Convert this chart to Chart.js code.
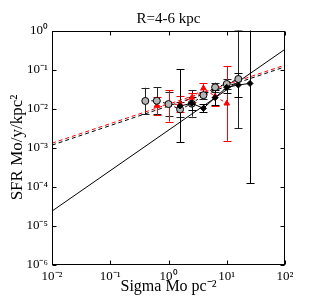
<!DOCTYPE html>
<html><head><meta charset="utf-8">
<script src="https://cdn.jsdelivr.net/npm/chart.js@4"></script>
<style>html,body{margin:0;padding:0;background:#fff}canvas{display:block}</style>
</head><body>
<canvas id="c" width="327" height="307"></canvas>
<script>
// ---- data ----
const grayX  = [0.4, 0.63, 1.0, 1.58, 2.51, 3.98, 6.31, 10.0, 15.8];
const grayY  = [0.0156, 0.0158, 0.013, 0.0095, 0.0133, 0.022, 0.035, 0.0425, 0.057];
const grayLo = [0.0071, 0.0071, 0.0065, 0.006, 0.0062, 0.018, 0.0265, 0.032, 0.0031];
const grayHi = [0.034, 0.0355, 0.026, 0.015, 0.029, 0.027, 0.046, 0.056, 1.05];

const redX  = [0.63, 1.0, 1.58, 2.51, 3.98, 6.31, 10.0];
const redY  = [0.0118, 0.0123, 0.013, 0.019, 0.033, 0.0205, 0.0135];
const redLo = [0.007, 0.0046, 0.0082, 0.0144, 0.024, 0.0116, 0.00148];
const redHi = [0.020, 0.029, 0.0206, 0.025, 0.044, 0.036, 0.123];

const blackX  = [1.58, 2.51, 3.98, 6.31, 10.0, 15.8, 25.1];
const blackY  = [0.0116, 0.0136, 0.0101, 0.019, 0.035, 0.040, 0.044];
const blackLo = [0.00136, 0.0092, 0.0080, 0.012, 0.025, 0.0195, 0.000123];
const blackHi = [0.101, 0.020, 0.0127, 0.030, 0.048, 0.081, 15];

const fitX = [0.01, 100];
const fitBlackSolid  = [2.34e-5, 0.33];
const fitRedDashed   = [1.29e-3, 0.130];
const fitBlackDashed = [1.15e-3, 0.117];

const xTicks = [0.01, 0.1, 1, 10, 100];
const xTickLabels = ['10\u207B\u00B2', '10\u207B\u00B9', '10\u2070', '10\u00B9', '10\u00B2'];
const yTicks = [1e-6, 1e-5, 1e-4, 1e-3, 1e-2, 1e-1, 1];
const yTickLabels = ['10\u207B\u2076', '10\u207B\u2075', '10\u207B\u2074', '10\u207B\u00B3', '10\u207B\u00B2', '10\u207B\u00B9', '10\u2070'];

const FONT = "'Liberation Serif', 'Times New Roman', serif";
const pts = (xs, ys) => xs.map((x, i) => ({x: x, y: ys[i]}));

const errSets = [
  {xs: grayX, lo: grayLo, hi: grayHi, color: '#222'},
  {xs: redX, lo: redLo, hi: redHi, color: '#ff0000'},
  {xs: blackX, lo: blackLo, hi: blackHi, color: '#000'}
];

const errorBars = {
  id: 'errorBars',
  beforeDatasetsDraw(chart) {
    const {ctx, chartArea: a, scales: {x, y}} = chart;
    ctx.save();
    ctx.beginPath(); ctx.rect(a.left, a.top, a.right - a.left, a.bottom - a.top); ctx.clip();
    ctx.lineWidth = 1;
    errSets.forEach(s => {
      ctx.strokeStyle = s.color;
      s.xs.forEach((xv, i) => {
        const px = Math.round(x.getPixelForValue(xv)) + 0.5;
        const y1 = y.getPixelForValue(s.lo[i]);
        const y2 = y.getPixelForValue(s.hi[i]);
        ctx.beginPath();
        ctx.moveTo(px, y1); ctx.lineTo(px, y2);
        const c1 = Math.round(y1) + 0.5, c2 = Math.round(y2) + 0.5;
        ctx.moveTo(px - 4, c1); ctx.lineTo(px + 4, c1);
        ctx.moveTo(px - 4, c2); ctx.lineTo(px + 4, c2);
        ctx.stroke();
      });
    });
    ctx.restore();
  }
};

const frame = {
  id: 'frame',
  afterDraw(chart) {
    const {ctx, chartArea: a, scales: {x, y}} = chart;
    const L = Math.round(a.left) + 0.5, R = Math.round(a.right) - 0.5;
    const T = Math.round(a.top) + 0.5, B = Math.round(a.bottom) - 0.5;
    ctx.save();
    ctx.strokeStyle = '#000'; ctx.lineWidth = 1;
    ctx.strokeRect(L, T, R - L, B - T);
    ctx.beginPath();
    xTicks.forEach(v => {
      const px = Math.round(x.getPixelForValue(v)) + 0.5;
      ctx.moveTo(px, B); ctx.lineTo(px, B - 4);
      ctx.moveTo(px, T); ctx.lineTo(px, T + 4);
    });
    yTicks.forEach(v => {
      const py = Math.round(y.getPixelForValue(v)) + 0.5;
      ctx.moveTo(L, py); ctx.lineTo(L + 4, py);
      ctx.moveTo(R, py); ctx.lineTo(R - 4, py);
    });
    ctx.stroke();
    ctx.restore();
  }
};

new Chart(document.getElementById('c'), {
  type: 'scatter',
  data: {
    datasets: [
      {data: pts(blackX, blackY), showLine: true, borderColor: '#000', borderWidth: 1,
       pointStyle: 'rectRot', pointRadius: 3, pointBackgroundColor: '#000', pointBorderColor: '#000', pointBorderWidth: 1},
      {data: pts(grayX, grayY), showLine: true, borderColor: '#000', borderWidth: 1, borderDash: [3, 3],
       pointStyle: 'circle', pointRadius: 3.5, pointBackgroundColor: '#b4b4b4', pointBorderColor: '#000', pointBorderWidth: 1},
      {data: pts(redX, redY), showLine: true, borderColor: '#ff0000', borderWidth: 1, borderDash: [3, 3],
       pointStyle: 'triangle', pointRadius: 3.2, pointBackgroundColor: '#ff0000', pointBorderColor: '#ff0000', pointBorderWidth: 1},
      {data: pts(fitX, fitBlackSolid), showLine: true, borderColor: '#000', borderWidth: 1, pointRadius: 0},
      {data: pts(fitX, fitBlackDashed), showLine: true, borderColor: '#000', borderWidth: 1, borderDash: [4, 3], pointRadius: 0},
      {data: pts(fitX, fitRedDashed), showLine: true, borderColor: '#ff0000', borderWidth: 1, borderDash: [4, 3], pointRadius: 0}
    ]
  },
  options: {
    responsive: false, animation: false, events: [],
    layout: {padding: {left: 0, right: 42, top: 0, bottom: 0}},
    plugins: {
      legend: {display: false}, tooltip: {enabled: false},
      title: {display: true, fullSize: false, text: 'R=4-6 kpc', color: '#000',
              font: {family: FONT, size: 15, weight: 'normal'}, padding: {top: 10, bottom: 2.5}}
    },
    scales: {
      x: {
        type: 'logarithmic', min: 0.01, max: 100,
        afterBuildTicks: s => { s.ticks = xTicks.map(v => ({value: v})); },
        afterFit: s => { s.height = 42.5; },
        ticks: {callback: (v, i) => xTickLabels[i], color: '#000', font: {family: FONT, size: 13},
                padding: 4, maxRotation: 0, autoSkip: false},
        grid: {display: false, drawTicks: false}, border: {display: false},
        title: {display: true, text: 'Sigma Mo pc\u207B\u00B2', color: '#000',
                font: {family: FONT, size: 16}, padding: {top: 0, bottom: 11}}
      },
      y: {
        type: 'logarithmic', min: 1e-6, max: 1,
        afterBuildTicks: s => { s.ticks = yTicks.map(v => ({value: v})); },
        afterFit: s => { s.width = 52; },
        ticks: {callback: (v, i) => yTickLabels[i], color: '#000', font: {family: FONT, size: 13},
                padding: 4, autoSkip: false},
        grid: {display: false, drawTicks: false}, border: {display: false},
        title: {display: true, text: 'SFR Mo/y/kpc\u00B2', color: '#000',
                font: {family: FONT, size: 17}, padding: {top: 7, bottom: 0}}
      }
    }
  },
  plugins: [errorBars, frame]
});
</script>
</body></html>
